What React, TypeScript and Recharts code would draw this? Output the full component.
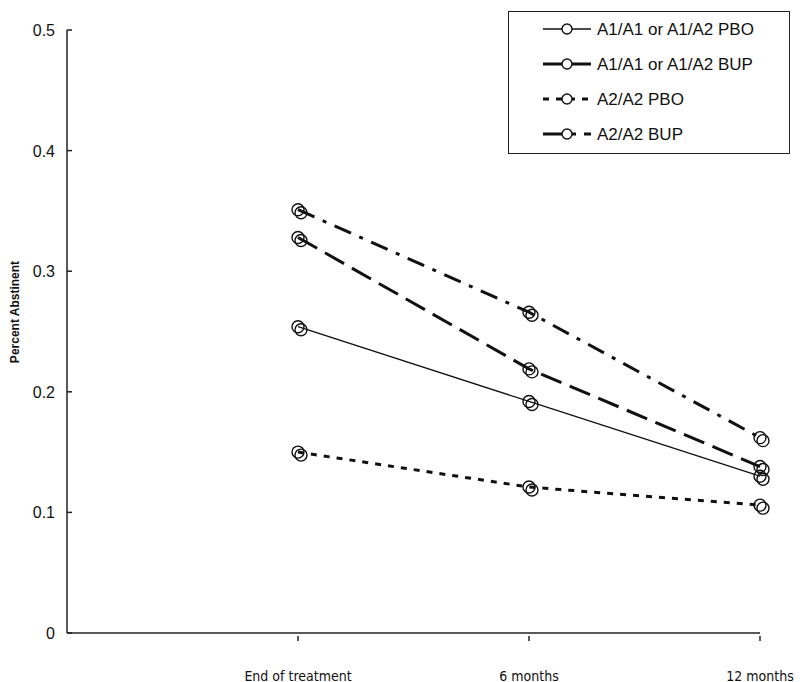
import React from 'react';
import { LineChart, Line, XAxis, YAxis } from 'recharts';

const positions = [1, 2, 3];
const timeLabels = ['End of treatment', '6 months', '12 months'];
const a1PboValues = [0.254, 0.192, 0.130];
const a1BupValues = [0.328, 0.219, 0.138];
const a2PboValues = [0.150, 0.121, 0.106];
const a2BupValues = [0.351, 0.266, 0.162];
const yTicks = [0, 0.1, 0.2, 0.3, 0.4, 0.5];

const seriesInfo = [
  { key: 'a1Pbo', name: 'A1/A1 or A1/A2 PBO', width: 1.3, dash: undefined, legendDash: undefined },
  { key: 'a1Bup', name: 'A1/A1 or A1/A2 BUP', width: 3, dash: '22 9', legendDash: undefined },
  { key: 'a2Pbo', name: 'A2/A2 PBO', width: 3, dash: '6 7', legendDash: '6 7' },
  { key: 'a2Bup', name: 'A2/A2 BUP', width: 3, dash: '18 9 4 9', legendDash: '20 8 5 8' },
];

const data = positions.map((x, i) => ({
  x,
  a1Pbo: a1PboValues[i],
  a1Bup: a1BupValues[i],
  a2Pbo: a2PboValues[i],
  a2Bup: a2BupValues[i],
}));

const DoubleDot = (props: any) => {
  const { cx, cy } = props;
  if (cx == null || cy == null) return null;
  return (
    <g>
      <circle cx={cx} cy={cy} r={6} fill="none" stroke="#111" strokeWidth={1.4} />
      <circle cx={cx + 3} cy={cy + 3} r={6} fill="none" stroke="#111" strokeWidth={1.4} />
    </g>
  );
};

const XTick = (props: any) => {
  const { x, y, payload } = props;
  const label = timeLabels[positions.indexOf(payload.value)] ?? '';
  return (
    <g>
      <line x1={x} x2={x} y1={y} y2={y - 5} stroke="#222" strokeWidth={1.5} />
      <text x={x} y={y + 40} textAnchor="middle" fontFamily="DejaVu Sans Condensed, DejaVu Sans, sans-serif" fontSize={14} fill="#111">
        {label}
      </text>
    </g>
  );
};

const YTick = (props: any) => {
  const { y, payload } = props;
  return (
    <g>
      <line x1={67} x2={72} y1={y} y2={y} stroke="#222" strokeWidth={1.5} />
      <text x={55} y={y + 6} textAnchor="end" fontFamily="Liberation Sans, Arial, sans-serif" fontSize={16} fill="#111">
        {payload.value === 0 ? '0' : payload.value.toFixed(1)}
      </text>
    </g>
  );
};

const YLabel = () => (
  <text
    x={19}
    y={312}
    transform="rotate(-90 19 312)"
    textAnchor="middle"
    fontFamily="Liberation Sans, Arial, sans-serif"
    fontWeight="bold"
    fontSize={12}
    fill="#111"
  >
    Percent Abstinent
  </text>
);

const LegendBox = () => (
  <div style={{ position: 'absolute', left: 508, top: 11, width: 282, height: 143, border: '1.5px solid #222', background: '#fff', boxSizing: 'border-box' }}>
    <svg width={279} height={140} style={{ display: 'block' }}>
      {seriesInfo.map((s, i) => {
        const y = 17 + i * 35;
        return (
          <g key={s.key}>
            <line x1={34} x2={82} y1={y} y2={y} stroke="#111" strokeWidth={s.width} strokeDasharray={s.legendDash} />
            <circle cx={58} cy={y} r={5} fill="#fff" stroke="#111" strokeWidth={1.4} />
            <text x={88} y={y + 6} fontFamily="Liberation Sans, Arial, sans-serif" fontSize={17} fill="#111">
              {s.name}
            </text>
          </g>
        );
      })}
    </svg>
  </div>
);

export default function App() {
  return (
    <div style={{ position: 'absolute', left: 0, top: 0, width: 800, height: 682, background: '#fff' }}>
      <LineChart width={800} height={682} data={data} margin={{ top: 30, right: 40, left: 0, bottom: 0 }}>
        <XAxis
          dataKey="x"
          type="number"
          domain={[0, 3]}
          ticks={positions}
          height={49}
          tickLine={false}
          tick={<XTick />}
          axisLine={{ stroke: '#222', strokeWidth: 1.5 }}
          interval={0}
        />
        <YAxis
          domain={[0, 0.5]}
          ticks={yTicks}
          width={67}
          tickLine={false}
          tick={<YTick />}
          axisLine={{ stroke: '#222', strokeWidth: 1.5 }}
          label={<YLabel />}
        />
        {seriesInfo.map((s) => (
          <Line
            key={s.key}
            dataKey={s.key}
            name={s.name}
            type="linear"
            stroke="#111"
            strokeWidth={s.width}
            strokeDasharray={s.dash}
            dot={<DoubleDot />}
            activeDot={false}
            isAnimationActive={false}
          />
        ))}
      </LineChart>
      <LegendBox />
    </div>
  );
}
